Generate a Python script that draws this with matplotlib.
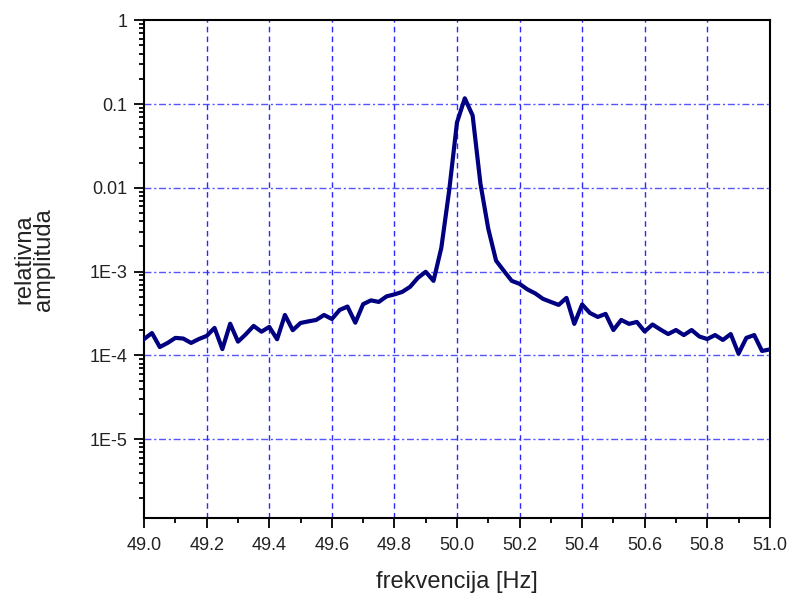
import numpy as np
import matplotlib
matplotlib.use("Agg")
import matplotlib.pyplot as plt
from matplotlib.ticker import FixedLocator, MultipleLocator, LogLocator, NullFormatter

plt.rcParams['font.family'] = ['Liberation Sans', 'DejaVu Sans']

# spectrum samples, 0.025 Hz apart from 49.0 to 51.0 Hz
f_start = 49.0
f_step = 0.025
amplitude = [
    1.57e-4, 1.85e-4, 1.26e-4, 1.41e-4, 1.62e-4, 1.59e-4, 1.41e-4, 1.57e-4,
    1.71e-4, 2.13e-4, 1.19e-4, 2.39e-4, 1.46e-4, 1.79e-4, 2.25e-4, 1.92e-4,
    2.19e-4, 1.56e-4, 3.04e-4, 2.00e-4, 2.44e-4, 2.55e-4, 2.65e-4, 3.04e-4,
    2.72e-4, 3.49e-4, 3.83e-4, 2.46e-4, 4.09e-4, 4.54e-4, 4.35e-4, 5.07e-4,
    5.35e-4, 5.73e-4, 6.58e-4, 8.43e-4, 9.95e-4, 7.76e-4, 1.93e-3, 9.26e-3,
    6.02e-2, 1.17e-1, 7.30e-2, 1.12e-2, 3.25e-3, 1.35e-3, 1.02e-3, 7.76e-4,
    7.15e-4, 6.14e-4, 5.50e-4, 4.73e-4, 4.35e-4, 4.01e-4, 4.86e-4, 2.38e-4,
    4.06e-4, 3.21e-4, 2.88e-4, 3.13e-4, 2.01e-4, 2.65e-4, 2.38e-4, 2.51e-4,
    1.93e-4, 2.34e-4, 2.04e-4, 1.80e-4, 2.01e-4, 1.75e-4, 2.01e-4, 1.68e-4,
    1.57e-4, 1.75e-4, 1.53e-4, 1.80e-4, 1.05e-4, 1.62e-4, 1.75e-4, 1.13e-4,
    1.18e-4,
]
freq = f_start + f_step * np.arange(len(amplitude))

y_ticks = [1, 0.1, 0.01, 1e-3, 1e-4, 1e-5]
y_labels = ['1', '0.1', '0.01', '1E-3', '1E-4', '1E-5']

fig = plt.figure(figsize=(7.92, 5.94), dpi=100)
ax = fig.add_axes([0.182, 0.128, 0.790, 0.838])

ax.plot(freq, amplitude, color='#000080', lw=3.0, solid_joinstyle='round', zorder=3)

ax.set_yscale('log')
ax.set_xlim(49.0, 51.0)
ax.set_ylim(1.15e-6, 1)

ax.yaxis.set_major_locator(FixedLocator(y_ticks))
ax.set_yticklabels(y_labels)
ax.yaxis.set_minor_locator(LogLocator(base=10, subs=np.arange(2, 10)))
ax.yaxis.set_minor_formatter(NullFormatter())

ax.xaxis.set_major_locator(MultipleLocator(0.2))
ax.xaxis.set_minor_locator(MultipleLocator(0.1))
ax.xaxis.set_major_formatter(matplotlib.ticker.FormatStrFormatter('%.1f'))

# grid: dash-dot horizontals, dashed verticals
for yv in y_ticks[1:]:
    ax.axhline(yv, color='#5555ff', lw=1.0, ls=(0, (5, 2, 1.5, 2)), zorder=1)
for xv in np.arange(49.2, 50.95, 0.2):
    ax.axvline(xv, color='#2a2aff', lw=1.0, ls=(0, (4, 3)), zorder=1)

ax.tick_params(which='major', direction='out', length=7, width=1.3,
               labelsize=13, colors='black', labelcolor='#222222')
ax.tick_params(axis='x', which='major', pad=7)
ax.tick_params(axis='y', which='major', pad=5)
ax.tick_params(which='minor', direction='out', length=3.5, width=1.3)
ax.tick_params(axis='both', top=False, right=False)
for s in ax.spines.values():
    s.set_linewidth(1.5)

ax.set_xlabel('frekvencija [Hz]', fontsize=17, color='#222222', labelpad=12)
ax.set_ylabel('relativna\namplituda', fontsize=17, color='#222222',
              linespacing=0.85)
ax.yaxis.set_label_coords(-0.142, 0.52)

fig.savefig('out.png', dpi=100)
